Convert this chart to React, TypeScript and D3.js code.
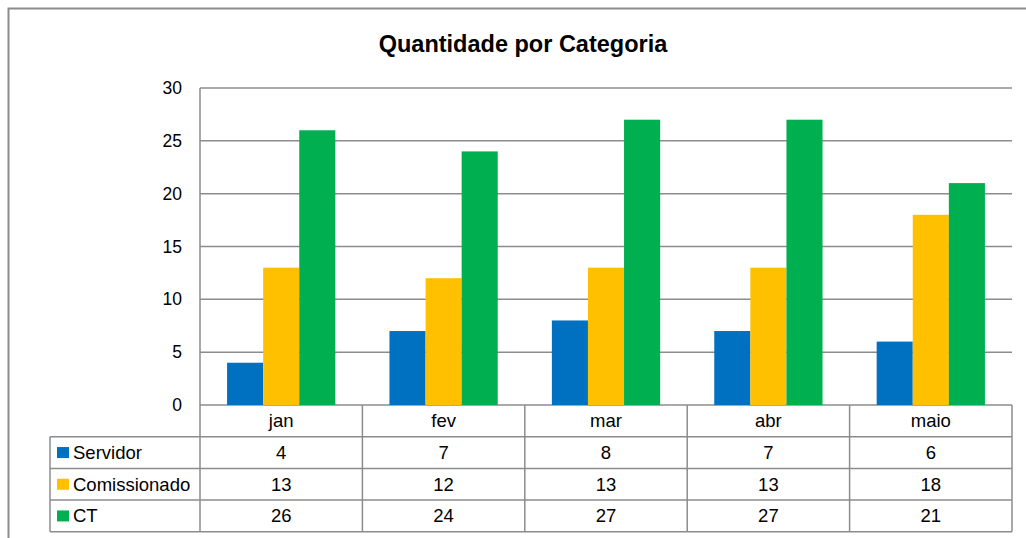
import React from "react";
import { scaleBand, scaleLinear } from "d3";

const months = ["jan", "fev", "mar", "abr", "maio"];
const seriesNames = ["Servidor", "Comissionado", "CT"];
const servidor = [4, 7, 8, 7, 6];
const comissionado = [13, 12, 13, 13, 18];
const ct = [26, 24, 27, 27, 21];
const yTicks = [0, 5, 10, 15, 20, 25, 30];
const colors = ["#0070c0", "#ffc000", "#00b050"];

const series = [servidor, comissionado, ct];

const App = () => {
  const left = 200;
  const right = 1012;
  const top = 88;
  const bottom = 405;
  const rowH = 31.7;
  const tableLeft = 50;
  const font = "'Liberation Sans', Arial, sans-serif";
  const tblSize = 18.5;

  const x = scaleBand().domain(months).range([left, right]);
  const inner = scaleBand()
    .domain(seriesNames)
    .range([0, x.bandwidth()])
    .paddingOuter(0.75)
    .paddingInner(0);
  const y = scaleLinear().domain([0, 30]).range([bottom, top]);

  const grid = "#8c8c8c";

  return (
    <svg
      width={1026}
      height={538}
      style={{ position: "absolute", left: 0, top: 0 }}
      fontFamily={font}
    >
      <rect x={0} y={0} width={1026} height={538} fill="#fff" />
      <rect x={8.5} y={8.5} width={1030} height={540} fill="none" stroke={grid} strokeWidth={2} />
      <text x={523} y={52} textAnchor="middle" fontSize={23.5} fontWeight="bold" fill="#000">
        Quantidade por Categoria
      </text>

      {yTicks.map((t) => (
        <g key={t}>
          <line x1={left} x2={right} y1={y(t)} y2={y(t)} stroke={grid} strokeWidth={1.5} />
          <text x={182} y={y(t) + 6} textAnchor="end" fontSize={17.5} fill="#000">
            {t}
          </text>
        </g>
      ))}
      <line x1={left} x2={left} y1={top} y2={bottom} stroke={grid} strokeWidth={1.5} />

      {series.map((vals, si) =>
        vals.map((v, i) => (
          <rect
            key={`${si}-${i}`}
            x={(x(months[i]) ?? 0) + (inner(seriesNames[si]) ?? 0)}
            y={y(v)}
            width={inner.bandwidth()}
            height={bottom - y(v)}
            fill={colors[si]}
          />
        ))
      )}

      {/* data table */}
      {months.map((m) => (
        <text
          key={m}
          x={(x(m) ?? 0) + x.bandwidth() / 2}
          y={bottom + rowH / 2 + 6.5}
          textAnchor="middle"
          fontSize={tblSize}
          fill="#000"
        >
          {m}
        </text>
      ))}
      {seriesNames.map((name, si) => {
        const ry = bottom + rowH * (si + 1);
        return (
          <g key={name}>
            <rect x={57} y={ry + rowH / 2 - 5.5} width={12} height={11} fill={colors[si]} />
            <text x={73} y={ry + rowH / 2 + 6.5} fontSize={tblSize} fill="#000">
              {name}
            </text>
            {series[si].map((v, i) => (
              <text
                key={i}
                x={(x(months[i]) ?? 0) + x.bandwidth() / 2}
                y={ry + rowH / 2 + 6.5}
                textAnchor="middle"
                fontSize={tblSize}
                fill="#000"
              >
                {v}
              </text>
            ))}
          </g>
        );
      })}
      {/* table lines */}
      {[1, 2, 3, 4].map((r) => (
        <line
          key={r}
          x1={r === 1 ? tableLeft : left}
          x2={right}
          y1={bottom + rowH * r}
          y2={bottom + rowH * r}
          stroke={grid}
          strokeWidth={1.5}
        />
      ))}
      {[2, 3, 4].map((r) => (
        <line
          key={`l${r}`}
          x1={tableLeft}
          x2={left}
          y1={bottom + rowH * r}
          y2={bottom + rowH * r}
          stroke={grid}
          strokeWidth={1.5}
        />
      ))}
      <line x1={tableLeft} x2={tableLeft} y1={bottom + rowH} y2={bottom + rowH * 4} stroke={grid} strokeWidth={1.5} />
      {months.concat(["end"]).map((m, i) => {
        const xx = i < months.length ? x(m) ?? 0 : right;
        return (
          <line key={m} x1={xx} x2={xx} y1={bottom} y2={bottom + rowH * 4} stroke={grid} strokeWidth={1.5} />
        );
      })}
    </svg>
  );
};

export default App;
